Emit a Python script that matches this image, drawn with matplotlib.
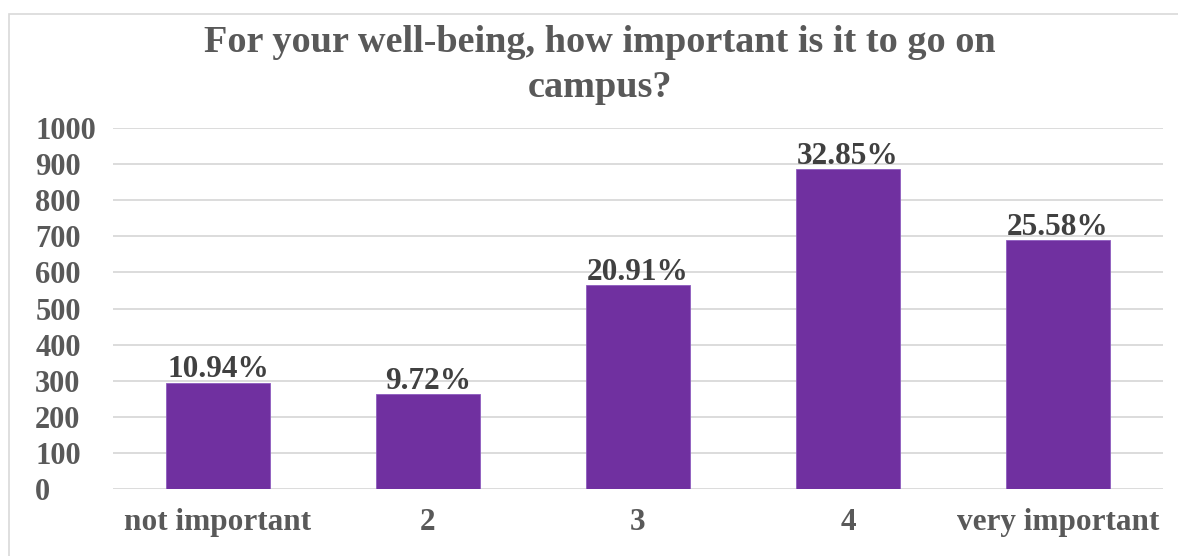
import matplotlib
matplotlib.use("Agg")
import matplotlib.pyplot as plt
from matplotlib.patches import Rectangle

categories = ["not important", "2", "3", "4", "very important"]
counts = [295, 262, 564, 886, 690]
pct_labels = ["10.94%", "9.72%", "20.91%", "32.85%", "25.58%"]
yticks = [0, 100, 200, 300, 400, 500, 600, 700, 800, 900, 1000]
title = "For your well-being, how important is it to go on\ncampus?"

W, H = 1178, 556
fig = plt.figure(figsize=(W / 100, H / 100), dpi=100)
fig.patch.set_facecolor("white")

# outer frame
fig.patches.append(Rectangle((9 / W, -0.05), 1.2, 1 - 14 / H + 0.05,
                             transform=fig.transFigure, fill=False,
                             edgecolor="#d9d9d9", linewidth=1.2))

ax = fig.add_axes([113 / W, 1 - 489 / H, (1163 - 113) / W, (489 - 128) / H])
ax.set_xlim(-0.5, len(categories) - 0.5)
ax.set_ylim(0, 1000)

x = list(range(len(categories)))
bars = ax.bar(x, counts, width=0.495, color="#7030A0", zorder=3,
              edgecolor="#8e5cbf", linewidth=0.6)

font = "Liberation Serif"
for xi, v, lab in zip(x, counts, pct_labels):
    ax.text(xi, v - 5, lab, ha="center", va="bottom", fontsize=22.5,
            fontweight="bold", family=font, color="#404040", zorder=4)

ax.set_yticks(yticks)
ax.set_yticklabels([str(t) for t in yticks], fontsize=22, fontweight="bold",
                   family=font, color="#595959")
ax.set_xticks(x)
ax.set_xticklabels(categories, fontsize=22.5, fontweight="bold", family=font,
                   color="#595959")
for lab in ax.get_yticklabels():
    lab.set_horizontalalignment("left")
ax.tick_params(axis="y", length=0, pad=56)
ax.tick_params(axis="x", length=0, pad=14)

ax.grid(axis="y", color="#d9d9d9", linewidth=1.3, zorder=0)
ax.set_axisbelow(True)
for s in ax.spines.values():
    s.set_visible(False)

fig.text(600 / W, 1 - 25 / H, title, ha="center", va="top", fontsize=27.5,
         fontweight="bold", family=font, color="#595959", linespacing=1.38)

fig.savefig("out.png", dpi=100, facecolor="white")
